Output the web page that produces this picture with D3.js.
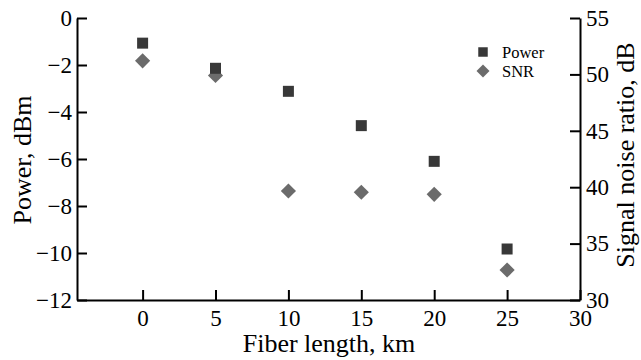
<!DOCTYPE html>
<html>
<head>
<meta charset="utf-8">
<script src="https://cdn.jsdelivr.net/npm/d3@7"></script>
<style>
  body { margin: 0; background: #fff; }
  text { font-family: "Liberation Serif", "Times New Roman", serif; fill: #000; }
</style>
</head>
<body>
<div id="container"></div>
<script>
// Data
var fiberLength = [0, 5, 10, 15, 20, 25];
var powerDbm = [-1.07, -2.14, -3.12, -4.58, -6.1, -9.83];
var snrDb = [51.2, 49.9, 39.66, 39.55, 39.37, 32.66];
var xTicks = [0, 5, 10, 15, 20, 25, 30];
var powerTicks = [0, -2, -4, -6, -8, -10, -12];
var snrTicks = [30, 35, 40, 45, 50, 55];
var legendLabels = ["Power", "SNR"];

var svg = d3.select("div#container")
  .append("svg")
  .attr("width", 641)
  .attr("height", 360);

var margin = {top: 18, right: 61, bottom: 60, left: 77};
var width = 641 - margin.left - margin.right;
var height = 360 - margin.top - margin.bottom;
var g = svg.append("g").attr("transform", "translate(" + margin.left + "," + margin.top + ")");

var x = d3.scaleLinear().domain([-4.5, 30]).range([0, width]);
var yPow = d3.scaleLinear().domain([-12, 0]).range([height, 0]);
var ySnr = d3.scaleLinear().domain([30, 55]).range([height, 0]);

function styleAxis(sel) {
  sel.selectAll(".domain").attr("stroke", "#000").attr("stroke-width", 2);
  sel.selectAll(".tick line").attr("stroke", "#000").attr("stroke-width", 2);
  sel.selectAll(".tick text")
    .style("font-family", "'Liberation Serif', serif")
    .style("font-size", "23px")
    .attr("fill", "#000");
}

// bottom axis, ticks pointing up
var xAxis = g.append("g")
  .attr("transform", "translate(0," + height + ")")
  .call(d3.axisBottom(x).tickValues(xTicks).tickSize(-10).tickSizeOuter(0).tickPadding(10));
styleAxis(xAxis);

// left axis, ticks pointing in
var yAxisL = g.append("g")
  .call(d3.axisLeft(yPow).tickValues(powerTicks).tickSize(-10).tickSizeOuter(0).tickPadding(5)
    .tickFormat(function(d) { return d < 0 ? "\u2212" + Math.abs(d) : d; }));
styleAxis(yAxisL);

// right axis
var yAxisR = g.append("g")
  .attr("transform", "translate(" + width + ",0)")
  .call(d3.axisRight(ySnr).tickValues(snrTicks).tickSize(-10).tickSizeOuter(0).tickPadding(6));
styleAxis(yAxisR);

// axis titles
svg.append("text")
  .attr("x", 329)
  .attr("y", 352)
  .attr("text-anchor", "middle")
  .style("font-size", "26px")
  .text("Fiber length, km");

svg.append("text")
  .attr("transform", "translate(31,160) rotate(-90)")
  .attr("text-anchor", "middle")
  .style("font-size", "26px")
  .text("Power, dBm");

svg.append("text")
  .attr("transform", "translate(634,155) rotate(-90)")
  .attr("text-anchor", "middle")
  .style("font-size", "26px")
  .text("Signal noise ratio, dB");

var square = d3.symbol().type(d3.symbolSquare).size(121);
var diamond = d3.symbol().type(d3.symbolSquare).size(115);

// SNR points (right axis)
g.selectAll(".snr")
  .data(fiberLength)
  .enter().append("path")
  .attr("class", "snr")
  .attr("d", diamond)
  .attr("fill", "#6b6b6b")
  .attr("transform", function(d, i) { return "translate(" + x(d) + "," + ySnr(snrDb[i]) + ") rotate(45)"; });

// Power points (left axis)
g.selectAll(".power")
  .data(fiberLength)
  .enter().append("path")
  .attr("class", "power")
  .attr("d", square)
  .attr("fill", "#383838")
  .attr("transform", function(d, i) { return "translate(" + x(d) + "," + yPow(powerDbm[i]) + ")"; });

// legend
var legend = svg.append("g").attr("transform", "translate(483,52)");
legendLabels.forEach(function(label, i) {
  var row = legend.append("g").attr("transform", "translate(0," + (i * 19) + ")");
  row.append("path")
    .attr("d", d3.symbol().type(d3.symbolSquare).size(i === 0 ? 90 : 85)())
    .attr("fill", i === 0 ? "#383838" : "#6b6b6b")
    .attr("transform", i === 0 ? null : "rotate(45)");
  row.append("text")
    .attr("x", 19)
    .attr("dy", "0.35em")
    .style("font-size", "16.5px")
    .text(label);
});
</script>
</body>
</html>
